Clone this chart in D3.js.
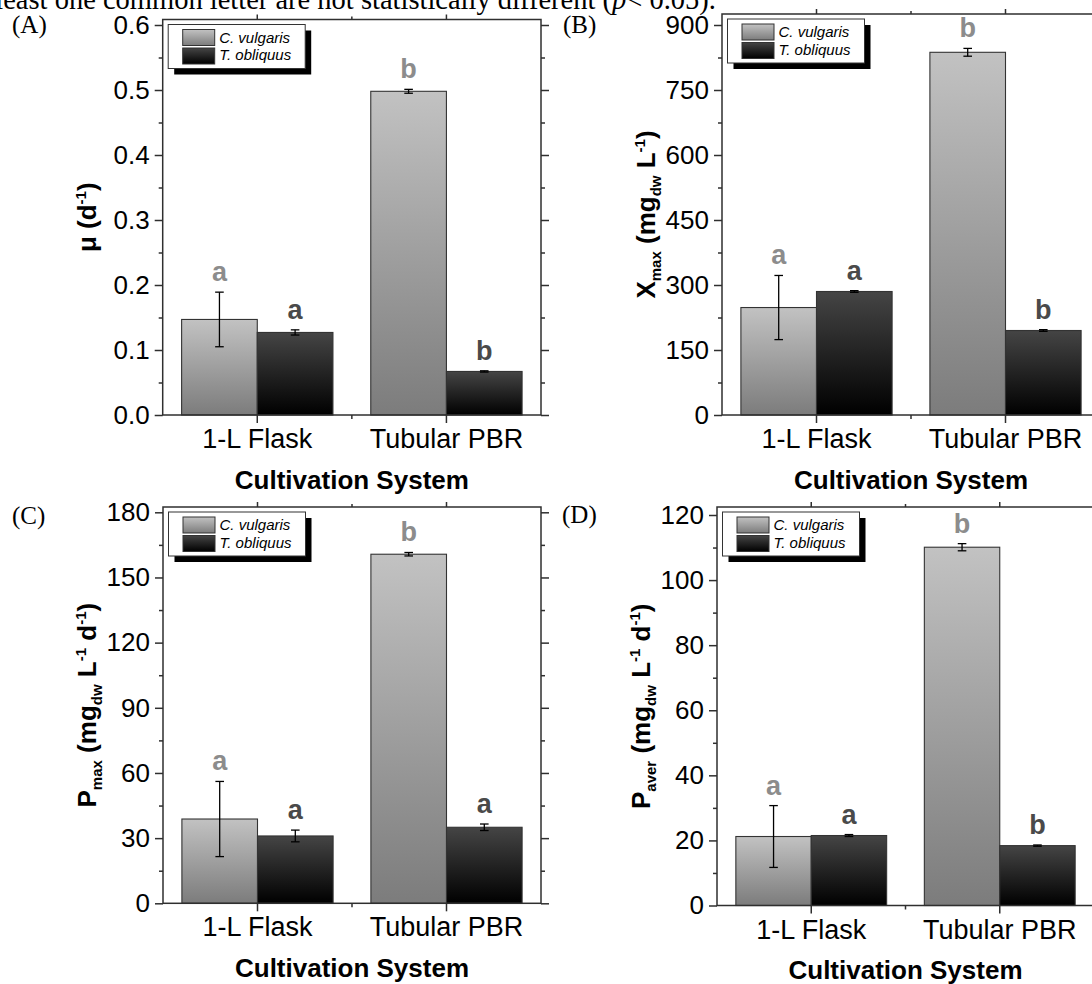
<!DOCTYPE html>
<html><head><meta charset="utf-8">
<script src="https://cdn.jsdelivr.net/npm/d3@7"></script>
<style>html,body{margin:0;padding:0;background:#fff;overflow:hidden}</style>
</head><body><svg id="c" width="1092" height="984" xmlns="http://www.w3.org/2000/svg"></svg>
<script>
// ---------------- data ----------------
const categories = ["1-L Flask", "Tubular PBR"];
const seriesNames = ["C. vulgaris", "T. obliquus"];

const muCV = [0.147, 0.498], muCVErr = [0.042, 0.003];
const muTO = [0.127, 0.067], muTOErr = [0.004, 0.001];
const muLettersCV = ["a", "b"], muLettersTO = ["a", "b"];
const muTicks = [0, 0.1, 0.2, 0.3, 0.4, 0.5, 0.6];

const xmaxCV = [248, 837], xmaxCVErr = [74, 9];
const xmaxTO = [285, 195], xmaxTOErr = [2, 2];
const xmaxLettersCV = ["a", "b"], xmaxLettersTO = ["a", "b"];
const xmaxTicks = [0, 150, 300, 450, 600, 750, 900];

const pmaxCV = [38.8, 160.7], pmaxCVErr = [17.3, 0.8];
const pmaxTO = [31.0, 35.0], pmaxTOErr = [2.7, 1.5];
const pmaxLettersCV = ["a", "b"], pmaxLettersTO = ["a", "a"];
const pmaxTicks = [0, 30, 60, 90, 120, 150, 180];

const paverCV = [21.2, 110.1], paverCVErr = [9.5, 1.1];
const paverTO = [21.5, 18.4], paverTOErr = [0.3, 0.2];
const paverLettersCV = ["a", "b"], paverLettersTO = ["a", "b"];
const paverTicks = [0, 20, 40, 60, 80, 100, 120];

const xTitle = "Cultivation System";
const noteText = "least one common letter are not statistically different (";

// ---------------- layout ----------------
const panels = [
  {label: "(A)", lx: 12, ly: 33, left: 162.7, right: 541, top: 19.5, bottom: 415, tickTop: 25,
   cv: muCV, cvE: muCVErr, to: muTO, toE: muTOErr, lcv: muLettersCV, lto: muLettersTO,
   ticks: muTicks, fmt: d3.format(".1f"),
   title: [["μ (d", "n"], ["-1", "sup"], [")", "n"]]},
  {label: "(B)", lx: 563, ly: 33, left: 722, right: 1100, top: 14, bottom: 415, tickTop: 25,
   cv: xmaxCV, cvE: xmaxCVErr, to: xmaxTO, toE: xmaxTOErr, lcv: xmaxLettersCV, lto: xmaxLettersTO,
   ticks: xmaxTicks, fmt: d3.format("d"),
   title: [["X", "n"], ["max", "sub"], [" (mg", "n"], ["dw", "sub"], [" L", "n"], ["-1", "sup"], [")", "n"]]},
  {label: "(C)", lx: 12, ly: 524, left: 163, right: 541, top: 507, bottom: 903.3, tickTop: 512.3,
   cv: pmaxCV, cvE: pmaxCVErr, to: pmaxTO, toE: pmaxTOErr, lcv: pmaxLettersCV, lto: pmaxLettersTO,
   ticks: pmaxTicks, fmt: d3.format("d"),
   title: [["P", "n"], ["max", "sub"], [" (mg", "n"], ["dw", "sub"], [" L", "n"], ["-1", "sup"], [" d", "n"], ["-1", "sup"], [")", "n"]]},
  {label: "(D)", lx: 562, ly: 523, left: 717, right: 1094, top: 507, bottom: 905.5, tickTop: 515,
   cv: paverCV, cvE: paverCVErr, to: paverTO, toE: paverTOErr, lcv: paverLettersCV, lto: paverLettersTO,
   ticks: paverTicks, fmt: d3.format("d"),
   title: [["P", "n"], ["aver", "sub"], [" (mg", "n"], ["dw", "sub"], [" L", "n"], ["-1", "sup"], [" d", "n"], ["-1", "sup"], [")", "n"]]}
];

const SANS = "'Liberation Sans', Arial, Helvetica, sans-serif";
const SERIF = "'Liberation Serif', 'Times New Roman', serif";
const AXIS = "#2f2f2f";
const letterColors = ["#8c8c8c", "#4a4a4a"];

const svg = d3.select("#c");
const defs = svg.append("defs");
function grad(id, c0, c1) {
  const g = defs.append("linearGradient").attr("id", id).attr("x1", 0).attr("y1", 0).attr("x2", 0).attr("y2", 1);
  g.append("stop").attr("offset", "0%").attr("stop-color", c0);
  g.append("stop").attr("offset", "100%").attr("stop-color", c1);
}
grad("gCV", "#c2c2c2", "#7c7c7c");
grad("gTO", "#454545", "#000000");
const fills = ["url(#gCV)", "url(#gTO)"];

// top note (cut off by the image edge, as in the source)
svg.append("text").attr("x", 716).attr("y", 8.5).attr("text-anchor", "end")
  .attr("font-family", SERIF).attr("font-size", 28.5).attr("fill", "#000")
  .call(t => {
    t.append("tspan").text(noteText);
    t.append("tspan").attr("font-style", "italic").text("p");
    t.append("tspan").text("< 0.05).");
  });

panels.forEach(p => {
  const g = svg.append("g");
  const W = p.right - p.left;
  const x0 = d3.scaleBand().domain(categories).range([p.left, p.right]).paddingInner(0).paddingOuter(0);
  const x1 = d3.scaleBand().domain(seriesNames).range([x0.bandwidth() * 0.1, x0.bandwidth() * 0.9]);
  const y = d3.scaleLinear().domain([0, p.ticks[p.ticks.length - 1]]).range([p.bottom, p.tickTop]);

  const rows = [];
  categories.forEach((c, i) => {
    rows.push({c, s: seriesNames[0], v: p.cv[i], e: p.cvE[i], l: p.lcv[i], k: 0});
    rows.push({c, s: seriesNames[1], v: p.to[i], e: p.toE[i], l: p.lto[i], k: 1});
  });

  // bars
  g.selectAll("rect.bar").data(rows).join("rect").attr("class", "bar")
    .attr("x", d => x0(d.c) + x1(d.s)).attr("width", x1.bandwidth())
    .attr("y", d => y(d.v)).attr("height", d => y(0) - y(d.v))
    .attr("fill", d => fills[d.k]).attr("stroke", "#333").attr("stroke-width", 1.1);

  // error bars
  const eb = g.selectAll("g.eb").data(rows).join("g").attr("class", "eb")
    .attr("transform", d => `translate(${x0(d.c) + x1(d.s) + x1.bandwidth() / 2},0)`);
  eb.append("line").attr("y1", d => y(d.v + d.e)).attr("y2", d => y(d.v - d.e))
    .attr("stroke", "#000").attr("stroke-width", 1.3);
  eb.append("line").attr("x1", -4.3).attr("x2", 4.3).attr("y1", d => y(d.v + d.e)).attr("y2", d => y(d.v + d.e))
    .attr("stroke", "#000").attr("stroke-width", 1.3);
  eb.append("line").attr("x1", -4.3).attr("x2", 4.3).attr("y1", d => y(d.v - d.e)).attr("y2", d => y(d.v - d.e))
    .attr("stroke", "#000").attr("stroke-width", 1.3);

  // significance letters
  g.selectAll("text.sig").data(rows).join("text").attr("class", "sig")
    .attr("x", d => x0(d.c) + x1(d.s) + x1.bandwidth() / 2)
    .attr("y", d => y(d.v + d.e) - 11)
    .attr("text-anchor", "middle").attr("font-family", SANS).attr("font-weight", "bold")
    .attr("font-size", 27).attr("fill", d => letterColors[d.k]).text(d => d.l);

  // frame
  g.append("rect").attr("x", p.left).attr("y", p.top).attr("width", W).attr("height", p.bottom - p.top)
    .attr("fill", "none").attr("stroke", AXIS).attr("stroke-width", 1.5);

  const minor = p.ticks.slice(0, -1).map((t, i) => (t + p.ticks[i + 1]) / 2);
  const styleAxis = sel => {
    sel.select(".domain").remove();
    sel.selectAll(".tick line").attr("stroke", AXIS).attr("stroke-width", 1.5);
    sel.attr("font-family", SANS).attr("fill", "#000");
    sel.selectAll(".tick text").attr("fill", "#000");
  };
  // left axis
  g.append("g").attr("transform", `translate(${p.left},0)`)
    .call(d3.axisLeft(y).tickValues(p.ticks).tickFormat(p.fmt).tickSize(8).tickPadding(5))
    .call(styleAxis).attr("font-size", 26);
  g.append("g").attr("transform", `translate(${p.left},0)`)
    .call(d3.axisLeft(y).tickValues(minor).tickFormat("").tickSize(4)).call(styleAxis);
  // right axis
  g.append("g").attr("transform", `translate(${p.right},0)`)
    .call(d3.axisRight(y).tickValues(p.ticks).tickFormat("").tickSize(8)).call(styleAxis);
  g.append("g").attr("transform", `translate(${p.right},0)`)
    .call(d3.axisRight(y).tickValues(minor).tickFormat("").tickSize(4)).call(styleAxis);
  // bottom axis
  g.append("g").attr("transform", `translate(0,${p.bottom})`)
    .call(d3.axisBottom(x0).tickSize(8).tickPadding(6)).call(styleAxis).attr("font-size", 27);
  const mid = x0(categories[1]);
  g.append("line").attr("x1", mid).attr("x2", mid).attr("y1", p.bottom).attr("y2", p.bottom + 4)
    .attr("stroke", AXIS).attr("stroke-width", 1.5);
  // top axis
  g.append("g").attr("transform", `translate(0,${p.top})`)
    .call(d3.axisTop(x0).tickSize(5).tickFormat("")).call(styleAxis);
  g.append("line").attr("x1", mid).attr("x2", mid).attr("y1", p.top).attr("y2", p.top - 3)
    .attr("stroke", AXIS).attr("stroke-width", 1.5);

  // x title
  g.append("text").attr("x", (p.left + p.right) / 2).attr("y", p.bottom + 73.5)
    .attr("text-anchor", "middle").attr("font-family", SANS).attr("font-weight", "bold")
    .attr("font-size", 26).attr("fill", "#000").text(xTitle);

  // y title
  const yt = g.append("text")
    .attr("transform", `translate(${p.left - 67},${(p.top + p.bottom) / 2}) rotate(-90)`)
    .attr("text-anchor", "middle").attr("font-family", SANS).attr("font-weight", "bold")
    .attr("font-size", 26).attr("fill", "#000");
  let shift = 0;
  p.title.forEach(([txt, kind]) => {
    const target = kind === "sub" ? 6 : kind === "sup" ? -10 : 0;
    yt.append("tspan").attr("dy", target - shift)
      .attr("font-size", kind === "n" ? 26 : 15).text(txt);
    shift = target;
  });

  // panel label
  svg.append("text").attr("x", p.lx).attr("y", p.ly).attr("font-family", SERIF)
    .attr("font-size", 25).attr("fill", "#000").text(p.label);

  // legend
  const lg = g.append("g").attr("transform", `translate(${p.left + 5.5},${p.top + 5})`);
  lg.append("rect").attr("x", 6).attr("y", 6).attr("width", 137).attr("height", 44).attr("fill", "#000");
  lg.append("rect").attr("x", 0).attr("y", 0).attr("width", 137).attr("height", 44)
    .attr("fill", "#fff").attr("stroke", "#333").attr("stroke-width", 1);
  seriesNames.forEach((s, i) => {
    lg.append("rect").attr("x", 14.5).attr("y", 5 + i * 18.5).attr("width", 32).attr("height", 16)
      .attr("fill", fills[i]).attr("stroke", "#333").attr("stroke-width", 1);
    lg.append("text").attr("x", 51).attr("y", 18 + i * 17.5).attr("font-family", SANS)
      .attr("font-style", "italic").attr("font-size", 15).attr("fill", "#000").text(s);
  });
});
</script>
</body></html>
